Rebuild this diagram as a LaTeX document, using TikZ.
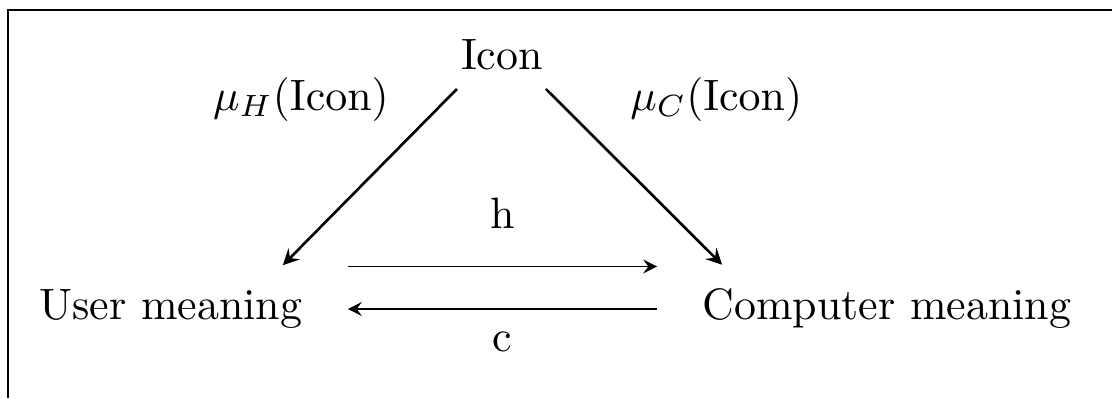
\documentclass[tikz,border=0pt]{standalone}
\begin{document}
\begin{tikzpicture}[>=stealth,
		slant/.style={->, line width=0.6pt},
		flow/.style={->, line width=0.4pt, shorten <=2.4mm, shorten >=2.4mm}]
			% Khung
			\useasboundingbox (0,0) rectangle (8.896,3.184);
			\draw[line width=0.5pt] (0.064,0) -- (0.064,3.104) -- (8.896,3.104);
			
			% Ba khai niem
			\node (icon) at (4.016,2.748) {Icon};
			\node (user) at (1.368,0.712) {User meaning};
			\node (comp) at (7.096,0.712) {Computer meaning};
			
			% Hai anh xa tu Icon
			\node (muh) at (2.408,2.392) {$\mu_H(\mathrm{Icon})$};
			\node (muc) at (5.73,2.392) {$\mu_C(\mathrm{Icon})$};
			\draw[slant] ([shift={(0.09,-0.03)}]icon.south west) -- ([shift={(-0.28,0.07)}]user.north east);
			\draw[slant] ([shift={(-0.1,-0.03)}]icon.south east) -- ([shift={(0.28,0.07)}]comp.north west);
			
			% h va c
			\draw[flow] ([yshift=3.4mm]user.east) -- node[above=1.8mm] (h) {h} ([yshift=3.4mm]comp.west);
			\draw[flow] (comp.west) -- node[below=0.6mm] (c) {c} (user.east);
		\end{tikzpicture}
\end{document}
